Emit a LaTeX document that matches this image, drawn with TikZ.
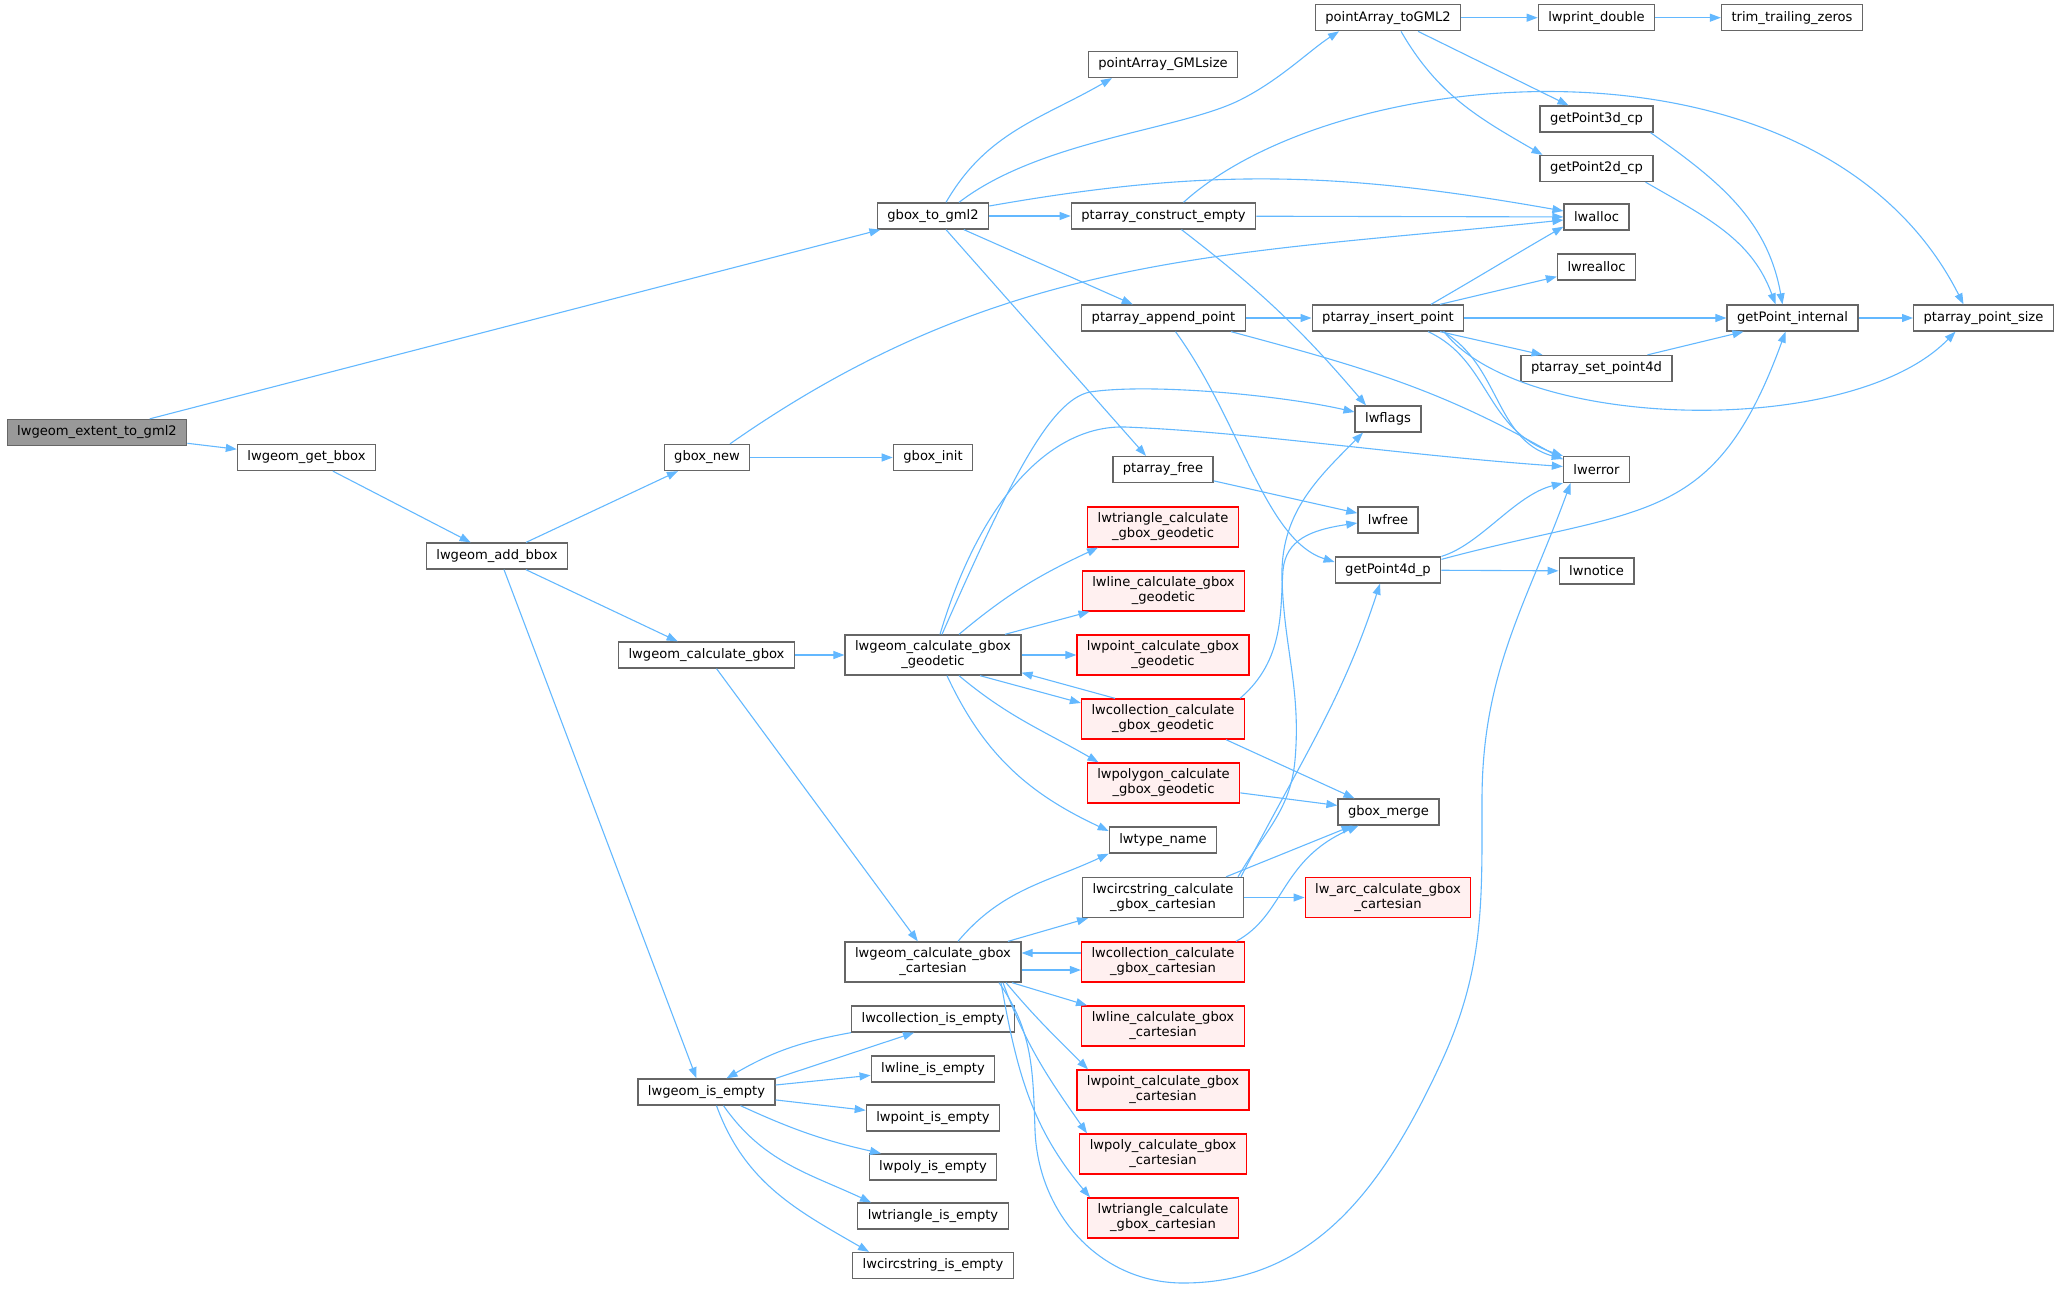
\documentclass[tikz,border=0pt]{standalone}
\usepackage{fontspec}
\setmainfont{DejaVu Sans}
\usepackage{tikz}
\usetikzlibrary{arrows.meta}
\definecolor{edgeblue}{HTML}{63B8FF}
\definecolor{boxgray}{HTML}{666666}
\definecolor{rootfill}{HTML}{999999}
\definecolor{redfill}{HTML}{FFF0F0}
\tikzset{
	fn/.style={draw=boxgray, fill=white, line width=1.3pt, minimum height=26pt, inner xsep=10pt, inner ysep=6pt, align=center, font=\fontsize{13.1}{15}\selectfont},
	fnroot/.style={fn, fill=rootfill},
	fnred/.style={fn, draw=red, fill=redfill},
	call/.style={draw=edgeblue, line width=1.1pt, -{Triangle[length=11pt,width=8pt]}}
}

\begin{document}
\begin{tikzpicture}[x=1pt,y=1pt]
		%%%%% START %%%%%
		\useasboundingbox (0,0) rectangle (2061,-1290);
		
		\node[fnroot] (ext) at (97,-432.5) {lwgeom\_extent\_to\_gml2};
		\node[fn] (getbbox) at (306.5,-457.5) {lwgeom\_get\_bbox};
		\node[fn] (addbbox) at (497,-556) {lwgeom\_add\_bbox};
		\node[fn] (gboxnew) at (707,-457.5) {gbox\_new};
		\node[fn] (calcgbox) at (706.5,-655) {lwgeom\_calculate\_gbox};
		\node[fn] (isempty) at (706.5,-1092) {lwgeom\_is\_empty};
		
		\node[fn] (gboxtogml) at (933,-216) {gbox\_to\_gml2};
		\node[fn] (gboxinit) at (933,-457.5) {gbox\_init};
		\node[fn] (geodetic) at (933,-655) {lwgeom\_calculate\_gbox\\\_geodetic};
		\node[fn] (cartesian) at (933,-962) {lwgeom\_calculate\_gbox\\\_cartesian};
		\node[fn] (collempty) at (933,-1019) {lwcollection\_is\_empty};
		\node[fn] (lineempty) at (933,-1069) {lwline\_is\_empty};
		\node[fn] (pointempty) at (933,-1118) {lwpoint\_is\_empty};
		\node[fn] (polyempty) at (933,-1167) {lwpoly\_is\_empty};
		\node[fn] (triempty) at (933,-1216) {lwtriangle\_is\_empty};
		\node[fn] (circempty) at (933,-1265.5) {lwcircstring\_is\_empty};
		
		\node[fn] (gmlsize) at (1163,-64.5) {pointArray\_GMLsize};
		\node[fn] (constructempty) at (1163.5,-216) {ptarray\_construct\_empty};
		\node[fn] (appendpoint) at (1163.5,-318) {ptarray\_append\_point};
		\node[fn] (ptfree) at (1163,-469.5) {ptarray\_free};
		\node[fnred] (trigeod) at (1163,-527) {lwtriangle\_calculate\\\_gbox\_geodetic};
		\node[fnred] (linegeod) at (1163.5,-591) {lwline\_calculate\_gbox\\\_geodetic};
		\node[fnred] (pointgeod) at (1163,-655) {lwpoint\_calculate\_gbox\\\_geodetic};
		\node[fnred] (collgeod) at (1163,-719) {lwcollection\_calculate\\\_gbox\_geodetic};
		\node[fnred] (polygeod) at (1163.5,-783) {lwpolygon\_calculate\\\_gbox\_geodetic};
		\node[fn] (typename) at (1163,-840) {lwtype\_name};
		\node[fn] (circcart) at (1163,-897.5) {lwcircstring\_calculate\\\_gbox\_cartesian};
		\node[fnred] (collcart) at (1163,-962) {lwcollection\_calculate\\\_gbox\_cartesian};
		\node[fnred] (linecart) at (1163,-1026) {lwline\_calculate\_gbox\\\_cartesian};
		\node[fnred] (pointcart) at (1163,-1090) {lwpoint\_calculate\_gbox\\\_cartesian};
		\node[fnred] (polycart) at (1163,-1154) {lwpoly\_calculate\_gbox\\\_cartesian};
		\node[fnred] (tricart) at (1163,-1218) {lwtriangle\_calculate\\\_gbox\_cartesian};
		
		\node[fn] (togml) at (1388,-17.7) {pointArray\_toGML2};
		\node[fn] (insertpoint) at (1388,-318) {ptarray\_insert\_point};
		\node[fn] (lwflags) at (1388,-419) {lwflags};
		\node[fn] (lwfree) at (1388,-520) {lwfree};
		\node[fn] (getpoint4d) at (1388,-570) {getPoint4d\_p};
		\node[fn] (gboxmerge) at (1388.5,-812) {gbox\_merge};
		\node[fnred] (arccart) at (1388,-897.5) {lw\_arc\_calculate\_gbox\\\_cartesian};
		
		\node[fn] (printdouble) at (1596.5,-17.7) {lwprint\_double};
		\node[fn] (getpoint3d) at (1596.5,-119) {getPoint3d\_cp};
		\node[fn] (getpoint2d) at (1596.5,-168.5) {getPoint2d\_cp};
		\node[fn] (lwalloc) at (1596.5,-217) {lwalloc};
		\node[fn] (lwrealloc) at (1596.5,-267) {lwrealloc};
		\node[fn] (setpoint4d) at (1596.5,-368.5) {ptarray\_set\_point4d};
		\node[fn] (lwerror) at (1596.5,-469.5) {lwerror};
		\node[fn] (lwnotice) at (1596.5,-571) {lwnotice};
		
		\node[fn] (trim) at (1792,-17.7) {trim\_trailing\_zeros};
		\node[fn] (getpointint) at (1792.5,-318) {getPoint\_internal};
		\node[fn] (pointsize) at (1983.5,-318) {ptarray\_point\_size};
		
		% left part
		\draw[call] (ext) -- (gboxtogml);
		\draw[call] (ext) -- (getbbox);
		\draw[call] (getbbox) -- (addbbox);
		\draw[call] (addbbox) -- (gboxnew);
		\draw[call] (addbbox) -- (calcgbox);
		\draw[call] ([xshift=7pt]addbbox.south) -- ([xshift=-10pt]isempty.north);
		\draw[call] (gboxnew) -- (gboxinit);
		\draw[call] ([xshift=23pt]gboxnew.north) to[out=35,in=186] ([yshift=-3pt]lwalloc.west);
		
		% gbox_to_gml2
		\draw[call] ([xshift=13pt]gboxtogml.north) to[out=60,in=210] ([xshift=-51pt]gmlsize.south);
		\draw[call] ([xshift=26pt]gboxtogml.north) .. controls (1040,-140) and (1180,-130) .. (1240,-100) .. controls (1280,-80) and (1310,-50) .. ([xshift=-49pt]togml.south);
		\draw[call] ([yshift=10pt]gboxtogml.east) to[out=10,in=170] ([yshift=6pt]lwalloc.west);
		\draw[call] (gboxtogml) -- (constructempty);
		\draw[call] (gboxtogml) -- (appendpoint);
		\draw[call] ([xshift=13pt]gboxtogml.south) -- ([xshift=-17pt]ptfree.north);
		
		% pointArray_toGML2
		\draw[call] (togml) -- (printdouble);
		\draw[call] (printdouble) -- (trim);
		\draw[call] ([xshift=30pt]togml.south) -- ([xshift=-28pt]getpoint3d.north);
		\draw[call] ([xshift=13pt]togml.south) to[out=-60,in=150] ([xshift=-54pt]getpoint2d.north);
		\draw[call] ([xshift=-3pt]getpoint3d.south east) to[out=-35,in=100] ([xshift=-10pt]getpointint.north);
		\draw[call] ([xshift=-8pt]getpoint2d.south east) to[out=-30,in=110] ([xshift=-17pt]getpointint.north);
		
		% ptarray_construct_empty
		\draw[call] (constructempty) -- (lwalloc);
		\draw[call] ([xshift=20pt]constructempty.north) .. controls (1340,-60) and (1820,-20) .. ([xshift=-20pt]pointsize.north);
		\draw[call] ([xshift=18pt]constructempty.south) to[bend left=6] ([xshift=-22pt]lwflags.north);
		
		% ptarray_append_point, ptarray_insert_point
		\draw[call] (appendpoint) -- (insertpoint);
		\draw[call] ([xshift=-15pt]appendpoint.south east) to[out=-15,in=150] ([yshift=10pt]lwerror.west);
		\draw[call] ([xshift=12pt]appendpoint.south) .. controls (1240,-420) and (1265,-540) .. ([yshift=8pt]getpoint4d.west);
		\draw[call] ([xshift=43pt]insertpoint.north) to[out=30,in=210] ([yshift=4pt]lwalloc.south west);
		\draw[call] ([xshift=52pt]insertpoint.north) -- ([yshift=4pt]lwrealloc.south west);
		\draw[call] (insertpoint) -- (getpointint);
		\draw[call] ([xshift=52pt]insertpoint.south) -- ([xshift=-54pt]setpoint4d.north);
		\draw[call] ([xshift=40pt]insertpoint.south) .. controls (1490,-360) and (1485,-430) .. (lwerror.north west);
		\draw[call] ([xshift=55pt]insertpoint.south) .. controls (1500,-365) and (1495,-440) .. ([yshift=-3pt]lwerror.north west);
		\draw[call] ([xshift=56pt]insertpoint.south) .. controls (1520,-430) and (1850,-440) .. ([xshift=-28pt]pointsize.south);
		\draw[call] ([xshift=51pt]setpoint4d.north) -- ([xshift=-49pt]getpointint.south);
		\draw[call] (getpointint) -- (pointsize);
		
		% ptarray_free, getPoint4d_p
		\draw[call] (ptfree) -- (lwfree);
		\draw[call] (getpoint4d.north east) .. controls (1480,-545) and (1515,-495) .. (lwerror.south west);
		\draw[call] ([yshift=-3pt]getpoint4d.north east) to[out=15,in=250,looseness=1.3] ([xshift=-7pt]getpointint.south);
		\draw[call] (getpoint4d) -- (lwnotice);
		
		% lwgeom_calculate_gbox
		\draw[call] (calcgbox) -- (geodetic);
		\draw[call] (calcgbox) -- (cartesian);
		
		% geodetic
		\draw[call] ([xshift=9pt]geodetic.north) .. controls (1010,-480) and (1050,-400) .. (1090,-392) .. controls (1150,-383) and (1280,-395) .. ([yshift=7pt]lwflags.west);
		\draw[call] ([xshift=7pt]geodetic.north) .. controls (980,-500) and (1050,-425) .. (1125,-427) .. controls (1250,-432) and (1400,-455) .. ([yshift=3pt]lwerror.west);
		\draw[call] ([xshift=26pt]geodetic.north) to[out=40,in=205] ([xshift=-65pt]trigeod.south);
		\draw[call] ([xshift=72pt]geodetic.north) -- ([xshift=-74pt]linegeod.south);
		\draw[call] (geodetic) -- (pointgeod);
		\draw[call] ([xshift=47pt]geodetic.south) -- ([yshift=16pt]collgeod.west);
		\draw[call] ([xshift=-48pt]collgeod.north) -- ([yshift=3pt]geodetic.south east);
		\draw[call] ([xshift=26pt]geodetic.south) to[out=-40,in=150] ([xshift=-65pt]polygeod.north);
		\draw[call] ([xshift=14pt]geodetic.south) to[out=-65,in=155] ([yshift=9pt]typename.west);
		\draw[call] ([xshift=63pt]collgeod.south) -- ([xshift=-34pt]gboxmerge.north);
		\draw[call] ([xshift=77pt]collgeod.north) .. controls (1285,-660) and (1280,-610) .. (1283,-570) .. controls (1286,-540) and (1310,-530) .. ([yshift=-3pt]lwfree.west);
		\draw[call] (polygeod) -- (gboxmerge);
		
		% cartesian
		\draw[call] ([xshift=25pt]cartesian.north) to[out=50,in=205] (typename.south west);
		\draw[call] ([xshift=75pt]cartesian.north) -- ([xshift=-75pt]circcart.south);
		\draw[call] ([yshift=-8pt]cartesian.east) -- ([yshift=-8pt]collcart.west);
		\draw[call] ([yshift=9pt]collcart.west) -- ([yshift=9pt]cartesian.east);
		\draw[call] ([xshift=79pt]cartesian.south) -- ([xshift=-76pt]linecart.north);
		\draw[call] ([xshift=73pt]cartesian.south) to[out=-50,in=135] ([xshift=-75pt]pointcart.north);
		\draw[call] ([xshift=70pt]cartesian.south) to[out=-70,in=125] ([xshift=-76pt]polycart.north);
		\draw[call] ([xshift=68pt]cartesian.south) to[out=-80,in=130] ([xshift=-73pt]tricart.north);
		\draw[call] ([xshift=66pt]cartesian.south) to[out=-55,in=92] (1035,-1130) to[out=-88,in=180] (1183,-1283) to[out=0,in=-115] (1440,-1065) to[out=65,in=-90] (1482,-800) to[out=90,in=-110] ([xshift=-26pt]lwerror.south);
		
		% lwcircstring / lwcollection cartesian
		\draw[call] ([xshift=73pt]collcart.north) .. controls (1285,-915) and (1280,-860) .. ([xshift=-30pt]gboxmerge.south);
		\draw[call] ([xshift=63pt]circcart.north) -- ([xshift=-36pt]gboxmerge.south);
		\draw[call] (circcart) -- (arccart);
		\draw[call] ([xshift=75pt]circcart.north) to[out=60,in=-95] (1295,-760) to[out=85,in=-88] (1282,-580) to[out=92,in=225] ([xshift=-25pt]lwflags.south);
		\draw[call] ([xshift=78pt]circcart.north) to[out=63,in=-108] ([xshift=-8pt]getpoint4d.south);
		
		% lwgeom_is_empty
		\draw[call] (isempty.north east) -- ([xshift=-19pt]collempty.south);
		\draw[call] (collempty.south west) to[bend right=10] ([xshift=20pt]isempty.north);
		\draw[call] (isempty) -- (lineempty);
		\draw[call] (isempty) -- (pointempty);
		\draw[call] ([xshift=34pt]isempty.south) to[bend right=6] ([xshift=-52pt]polyempty.north);
		\draw[call] ([xshift=17pt]isempty.south) to[out=-55,in=155] ([xshift=-62pt]triempty.north);
		\draw[call] ([xshift=10pt]isempty.south) to[out=-70,in=150] ([xshift=-64pt]circempty.north);
		%%%%% END %%%%%
\end{tikzpicture}
\end{document}
